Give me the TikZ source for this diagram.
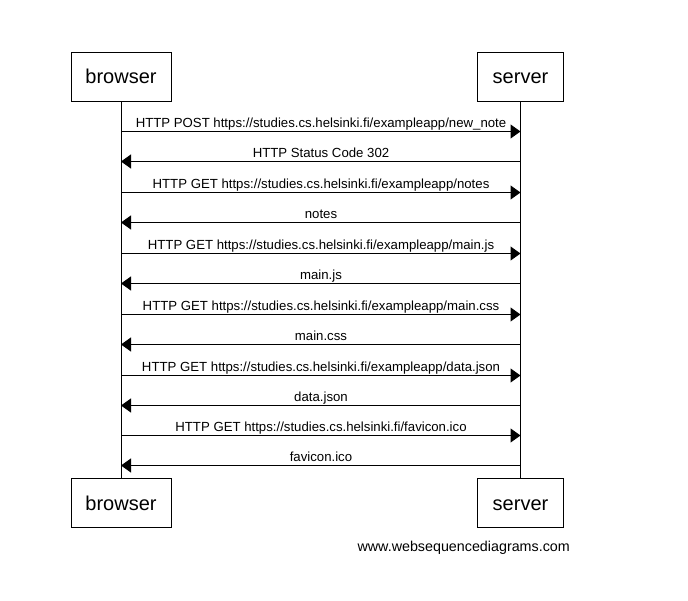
\documentclass[tikz,border=0pt]{standalone}
\usepackage{fontspec}
\setmainfont{Liberation Sans}
\usetikzlibrary{arrows.meta}
\begin{document}
\begin{tikzpicture}[x=1pt,y=-1pt,
  actor/.style={draw,line width=1pt,minimum height=49pt,inner sep=0pt,text height=16.5pt,text depth=2.5pt,font=\fontsize{20}{24}\selectfont},
  life/.style={line width=1pt},
  msg/.style={line width=1pt,-{Triangle[length=10pt,width=14pt]}},
  lbl/.style={anchor=base,inner sep=0pt,font=\fontsize{13.2}{15}\selectfont}]
\useasboundingbox[fill=white] (0,0) rectangle (688,601);
\node[actor,minimum width=100pt] (bt) at (121,77) {browser};
\node[actor,minimum width=86pt] (st) at (520.5,77) {server};
\node[actor,minimum width=100pt] (bb) at (121,503) {browser};
\node[actor,minimum width=86pt] (sb) at (520.5,503) {server};
\draw[life] (bt.south) -- (bb.north);
\draw[life] (st.south) -- (sb.north);
\foreach \i/\y/\dir/\txt in {
 1/131.5/r/{HTTP POST https://studies.cs.helsinki.fi/exampleapp/new\_note},
 2/161.5/l/{HTTP Status Code 302},
 3/192.5/r/{HTTP GET https://studies.cs.helsinki.fi/exampleapp/notes},
 4/222.5/l/{notes},
 5/253.5/r/{HTTP GET https://studies.cs.helsinki.fi/exampleapp/main.js},
 6/283.5/l/{main.js},
 7/314.5/r/{HTTP GET https://studies.cs.helsinki.fi/exampleapp/main.css},
 8/344.5/l/{main.css},
 9/375.5/r/{HTTP GET https://studies.cs.helsinki.fi/exampleapp/data.json},
 10/405.5/l/{data.json},
 11/435.5/r/{HTTP GET https://studies.cs.helsinki.fi/favicon.ico},
 12/465.5/l/{favicon.ico}}{
  \coordinate (b\i) at (bt.south |- 0,\y);
  \coordinate (s\i) at (st.south |- 0,\y);
  \node[lbl] (t\i) at (321,\y-4) {\txt};
  \if r\dir
    \draw[msg] (b\i) -- (s\i);
  \else
    \draw[msg] (s\i) -- (b\i);
  \fi
}
\node[anchor=base east,inner sep=0pt,font=\fontsize{14.3}{17}\selectfont] (wm) at (570,551) {www.websequencediagrams.com};
\end{tikzpicture}
\end{document}
